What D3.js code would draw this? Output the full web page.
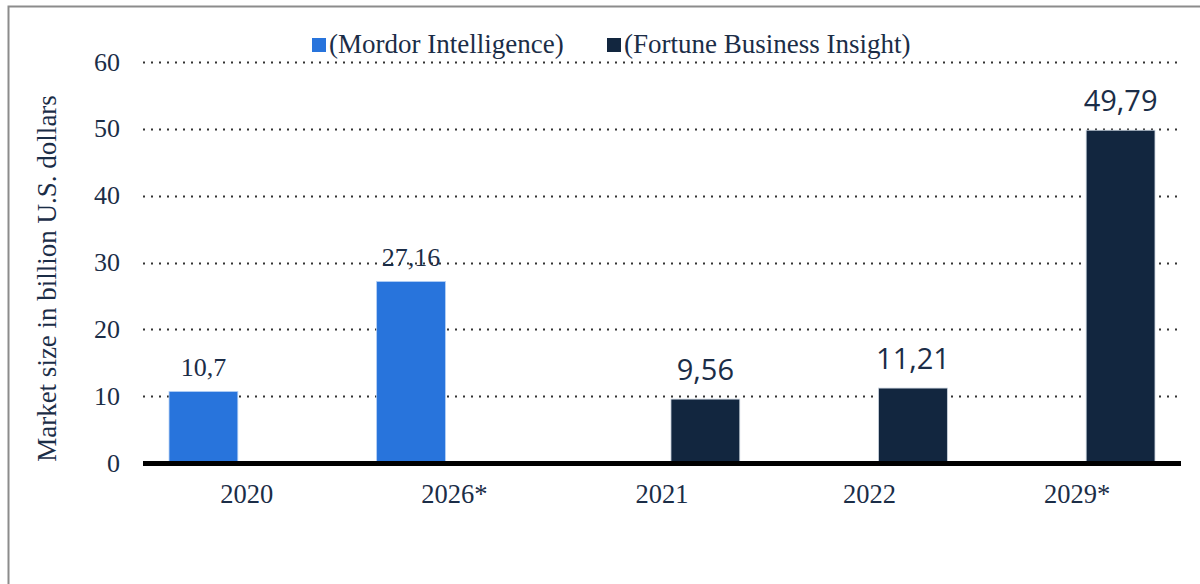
<!DOCTYPE html>
<html>
<head>
<meta charset="utf-8">
<script src="https://cdn.jsdelivr.net/npm/d3@7"></script>
<style>
    html, body { margin: 0; padding: 0; background: #fff; }
    svg { display: block; }
</style>
</head>
<body>
<div id="chart"></div>
<script>
(function () {
    "use strict";

    var categories = ["2020", "2026*", "2021", "2022", "2029*"];
    var seriesNames = ["(Mordor Intelligence)", "(Fortune Business Insight)"];
    var mordor = [10.7, 27.16, null, null, null];
    var fortune = [null, null, 9.56, 11.21, 49.79];
    var yTicks = [0, 10, 20, 30, 40, 50, 60];
    var yTitle = "Market size in billion U.S. dollars";

    var colors = ["#2874dc", "#12263f"];
    var textColor = "#1b2d47";
    var serif = "'Liberation Serif', 'Times New Roman', serif";
    var sans = "'Open Sans', 'Noto Sans', sans-serif";

    var width = 1200, height = 584;
    var margin = { top: 62, right: 19, bottom: 121, left: 143 };

    var svg = d3.select("#chart").append("svg")
        .attr("width", width)
        .attr("height", height);

    // frame
    svg.append("rect")
        .attr("x", 8.5).attr("y", 6.5)
        .attr("width", 1300).attr("height", 700)
        .attr("fill", "none")
        .attr("stroke", "#8c8c8c")
        .attr("stroke-width", 2);

    var x0 = d3.scaleBand()
        .domain(categories)
        .range([margin.left, width - margin.right])
        .paddingInner(0)
        .paddingOuter(0);

    var x1 = d3.scaleBand()
        .domain(seriesNames)
        .range([0, x0.bandwidth()])
        .paddingInner(0.207)
        .paddingOuter(0.3);

    var y = d3.scaleLinear()
        .domain([0, 60])
        .range([height - margin.bottom, margin.top]);

    // dotted grid
    svg.append("g")
        .selectAll("line")
        .data(yTicks.filter(function (d) { return d > 0; }))
        .enter().append("line")
        .attr("x1", margin.left)
        .attr("x2", width - margin.right)
        .attr("y1", function (d) { return Math.round(y(d)) + 0.5; })
        .attr("y2", function (d) { return Math.round(y(d)) + 0.5; })
        .attr("stroke", "#333")
        .attr("stroke-width", 2)
        .attr("stroke-dasharray", "2,6");

    // y tick labels
    svg.append("g")
        .selectAll("text")
        .data(yTicks)
        .enter().append("text")
        .attr("x", 120)
        .attr("y", function (d) { return y(d); })
        .attr("dy", "0.33em")
        .attr("text-anchor", "end")
        .attr("font-family", serif)
        .attr("font-size", 26)
        .attr("fill", textColor)
        .text(function (d) { return d; });

    // y title
    svg.append("text")
        .attr("transform", "translate(56," + ((y(0) + 98) / 2 - 2) + ") rotate(-90)")
        .attr("text-anchor", "middle")
        .attr("font-family", serif)
        .attr("font-size", 27)
        .attr("fill", textColor)
        .text(yTitle);

    var rows = categories.map(function (c, i) {
        return [
            { cat: c, key: seriesNames[0], value: mordor[i], idx: 0 },
            { cat: c, key: seriesNames[1], value: fortune[i], idx: 1 }
        ].filter(function (d) { return d.value != null; });
    });
    var bars = [].concat.apply([], rows);

    svg.append("g")
        .selectAll("rect")
        .data(bars)
        .enter().append("rect")
        .attr("x", function (d) { return x0(d.cat) + x1(d.key); })
        .attr("y", function (d) { return y(d.value); })
        .attr("width", x1.bandwidth())
        .attr("height", function (d) { return y(0) - y(d.value); })
        .attr("fill", function (d) { return colors[d.idx]; })
        .attr("stroke", function (d) { return d.idx === 0 ? "#b5d0f5" : "#c9d2dd"; })
        .attr("stroke-width", 0.8);

    // value labels
    svg.append("g")
        .selectAll("text")
        .data(bars)
        .enter().append("text")
        .attr("x", function (d) { return x0(d.cat) + x1(d.key) + x1.bandwidth() / 2; })
        .attr("y", function (d) { return y(d.value) - (d.idx === 0 ? 15 : 19); })
        .attr("text-anchor", "middle")
        .attr("font-family", function (d) { return d.idx === 0 ? serif : sans; })
        .attr("font-size", function (d) { return d.idx === 0 ? 26 : 29; })
        .attr("fill", textColor)
        .text(function (d) { return String(d.value).replace(".", ","); });

    // baseline
    svg.append("line")
        .attr("x1", margin.left)
        .attr("x2", width - margin.right)
        .attr("y1", y(0) + 0.5)
        .attr("y2", y(0) + 0.5)
        .attr("stroke", "#000")
        .attr("stroke-width", 5);

    // x labels
    svg.append("g")
        .selectAll("text")
        .data(categories)
        .enter().append("text")
        .attr("x", function (d) { return x0(d) + x0.bandwidth() / 2; })
        .attr("y", 503)
        .attr("text-anchor", "middle")
        .attr("font-family", serif)
        .attr("font-size", 26.5)
        .attr("fill", textColor)
        .text(function (d) { return d; });

    // legend
    var legend = svg.append("g");
    var legendX = [312, 607];
    seriesNames.forEach(function (name, i) {
        legend.append("rect")
            .attr("x", legendX[i])
            .attr("y", 38)
            .attr("width", 14)
            .attr("height", 14)
            .attr("fill", colors[i]);
        legend.append("text")
            .attr("x", legendX[i] + 17)
            .attr("y", 53)
            .attr("font-family", serif)
            .attr("font-size", 27)
            .attr("fill", textColor)
            .text(name);
    });
})();
</script>
</body>
</html>
